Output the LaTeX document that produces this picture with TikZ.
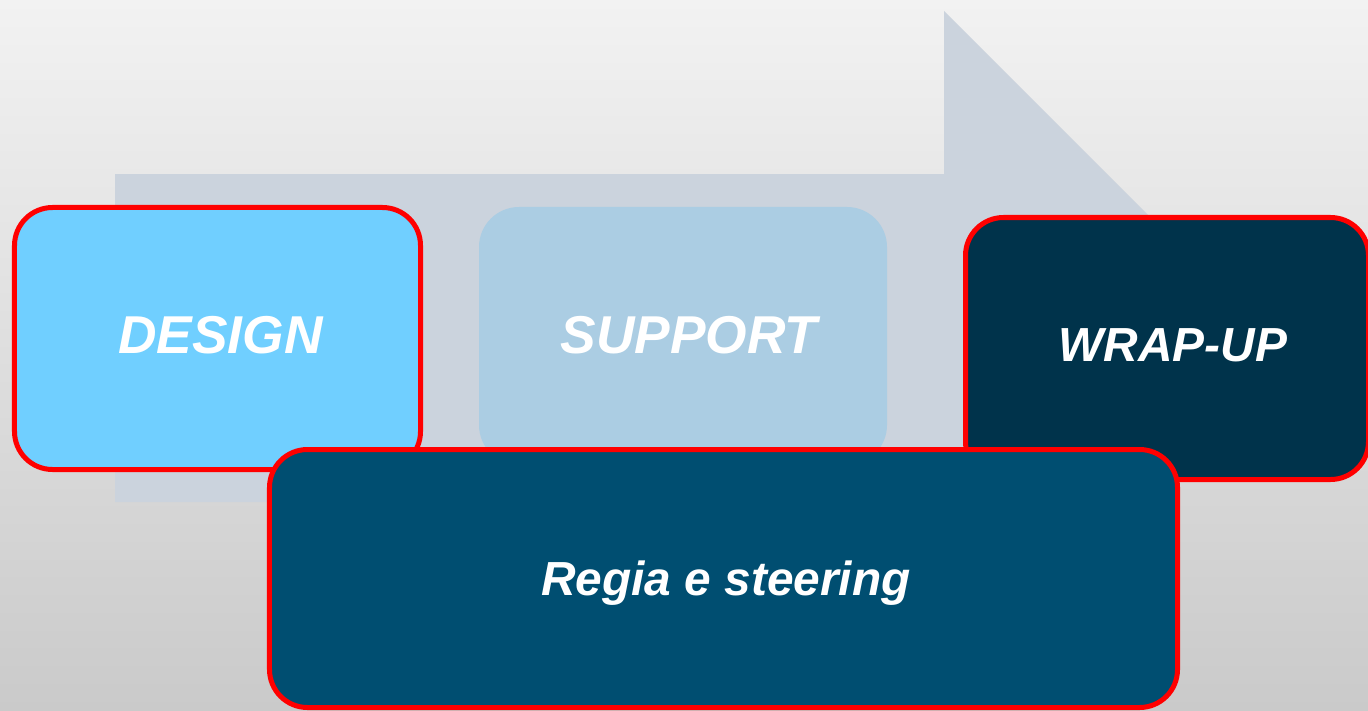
\documentclass[tikz,border=0pt]{standalone}
\usepackage{fontspec}
\setmainfont{Liberation Sans}

\definecolor{bgtop}{HTML}{F2F2F2}
\definecolor{bgbot}{HTML}{CACACA}
\definecolor{arrowgrey}{HTML}{CBD3DD}
\definecolor{designblue}{HTML}{70CFFF}
\definecolor{supportblue}{HTML}{ABCDE3}
\definecolor{wrapnavy}{HTML}{00334B}
\definecolor{regiablue}{HTML}{004E71}
\definecolor{edgered}{HTML}{FF0000}

\tikzset{
  phase/.style={rectangle, draw=edgered, line width=5bp, rounded corners=38bp,
                inner sep=0pt, outer sep=0pt},
  phaselabel/.style={text=white, inner sep=0pt,
                     font=\fontsize{#1}{#1}\selectfont\bfseries\itshape}
}

\begin{document}
\begin{tikzpicture}[x=1bp,y=-1bp]
  \useasboundingbox (0,0) rectangle (1368,710);
  % background gradient
  \shade[top color=bgtop, bottom color=bgbot] (0,0) rectangle (1368,710);
  % process arrow behind the phases
  \fill[arrowgrey] (115,174) -- (944,174) -- (944,11) -- (1271,338)
                   -- (944,665) -- (944,502) -- (115,502) -- cycle;
  % phase boxes
  \node[phase, fill=designblue, minimum width=406bp, minimum height=262bp]
       (design) at (217.5,338.5) {};
  \node[phase, draw=none, fill=supportblue, rounded corners=40bp,
        minimum width=408bp, minimum height=258bp]
       (support) at (683,336) {};
  \node[phase, fill=wrapnavy, minimum width=403bp, minimum height=262bp]
       (wrapup) at (1167,348.5) {};
  \node[phase, fill=regiablue, minimum width=908bp, minimum height=258bp]
       (regia) at (723.5,578.5) {};
  % labels
  \node[phaselabel=53.5] (designlbl) at (220.5,335) {DESIGN};
  \node[phaselabel=53.5] (supportlbl) at (689,335.5) {SUPPORT};
  \node[phaselabel=48] (wrapuplbl) at (1173,345.5) {WRAP-UP};
  \node[phaselabel=48, anchor=base] (regialbl) at (726,595.5) {Regia e steering};
\end{tikzpicture}
\end{document}
